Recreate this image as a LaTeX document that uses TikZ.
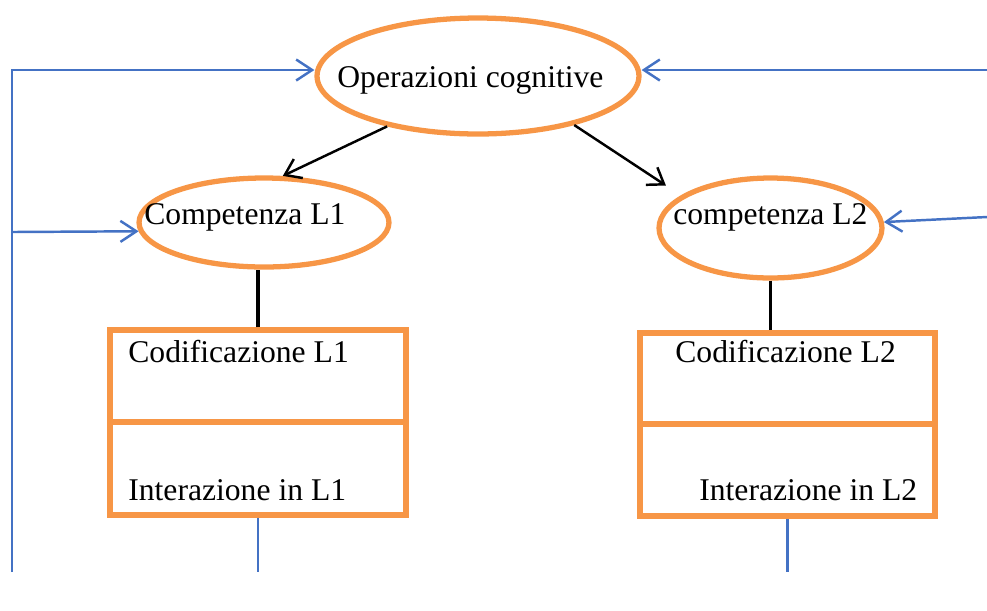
\documentclass[tikz,border=0pt]{standalone}
\usepackage{fontspec}
\setmainfont{Liberation Serif}
\usetikzlibrary{shapes.geometric,arrows.meta}
\definecolor{oborder}{HTML}{F79646}
\definecolor{fblue}{HTML}{4472C4}

\begin{document}
\begin{tikzpicture}[
    x=0.02cm, y=-0.02cm,
    oval/.style={ellipse, draw=oborder, line width=3pt, inner sep=0pt},
    part/.style={rectangle, draw=oborder, line width=3pt, inner sep=0pt, minimum width=5.92cm},
    txt/.style={anchor=base west, inner sep=0pt, font=\fontsize{18}{21.6}\selectfont},
    link/.style={-{Straight Barb[length=0.3cm,width=0.42cm]}, line width=1.4pt},
    feed/.style={-{Straight Barb[length=0.32cm,width=0.42cm]}, draw=fblue, line width=1.4pt},
    plain/.style={draw=fblue, line width=1.3pt}
]
    \useasboundingbox (0,0) rectangle (987,610);

    % Ellipses
    \node[oval, minimum width=6.44cm, minimum height=2.32cm] (ops) at (478,76) {};
    \node[oval, minimum width=5.0cm, minimum height=1.78cm] (comp1) at (264,222.5) {};
    \node[oval, minimum width=4.46cm, minimum height=2.0cm] (comp2) at (770.5,228) {};

    % Boxes
    \node[part, minimum height=1.84cm] (cod1) at (258,376) {};
    \node[part, minimum height=1.86cm] (int1) at (258,468.5) {};
    \node[part, minimum width=5.9cm, minimum height=1.82cm] (cod2) at (787.5,378.5) {};
    \node[part, minimum width=5.9cm, minimum height=1.84cm] (int2) at (787.5,470) {};

    % Texts
    \node[txt] (opst) at (337,87) {Operazioni cognitive};
    \node[txt] (comp1t) at (144,224) {Competenza L1};
    \node[txt] (comp2t) at (673,224) {competenza L2};
    \node[txt] (cod1t) at (128,362) {Codificazione L1};
    \node[txt] (int1t) at (128,500) {Interazione in L1};
    \node[txt] (cod2t) at (675,362) {Codificazione L2};
    \node[txt] (int2t) at (699,500) {Interazione in L2};

    % Free ends
    \coordinate (lt) at (12,70);
    \coordinate (lm) at (12,232);
    \coordinate (lb) at (12,572);
    \coordinate (rt) at (987,70);
    \coordinate (rm) at (987,217);
    \coordinate (out1) at (int1.south |- lb);
    \coordinate (out2) at (int2.south |- lb);

    % Feedback lines
    \draw[feed] (lb) -- (lt) -- (lt -| ops.west);
    \draw[feed] (lm) -- (comp1.184);
    \draw[feed] (rt) -- (rt -| ops.east);
    \draw[feed] (rm) -- (comp2.3);
    \draw[plain] (int1.south) -- (out1);
    \draw[plain] (int2.south) -- (out2);

    % Arrows
    \draw[link] (ops.209) -- (comp1.68);
    \draw[link, shorten >=0.36cm] (ops.333) -- (comp2.160);
    \draw[line width=2pt] (cod1.north) -- (cod1.north |- comp1.south);
    \draw[line width=2pt] (comp2.south) -- (comp2.south |- cod2.north);
\end{tikzpicture}
\end{document}
